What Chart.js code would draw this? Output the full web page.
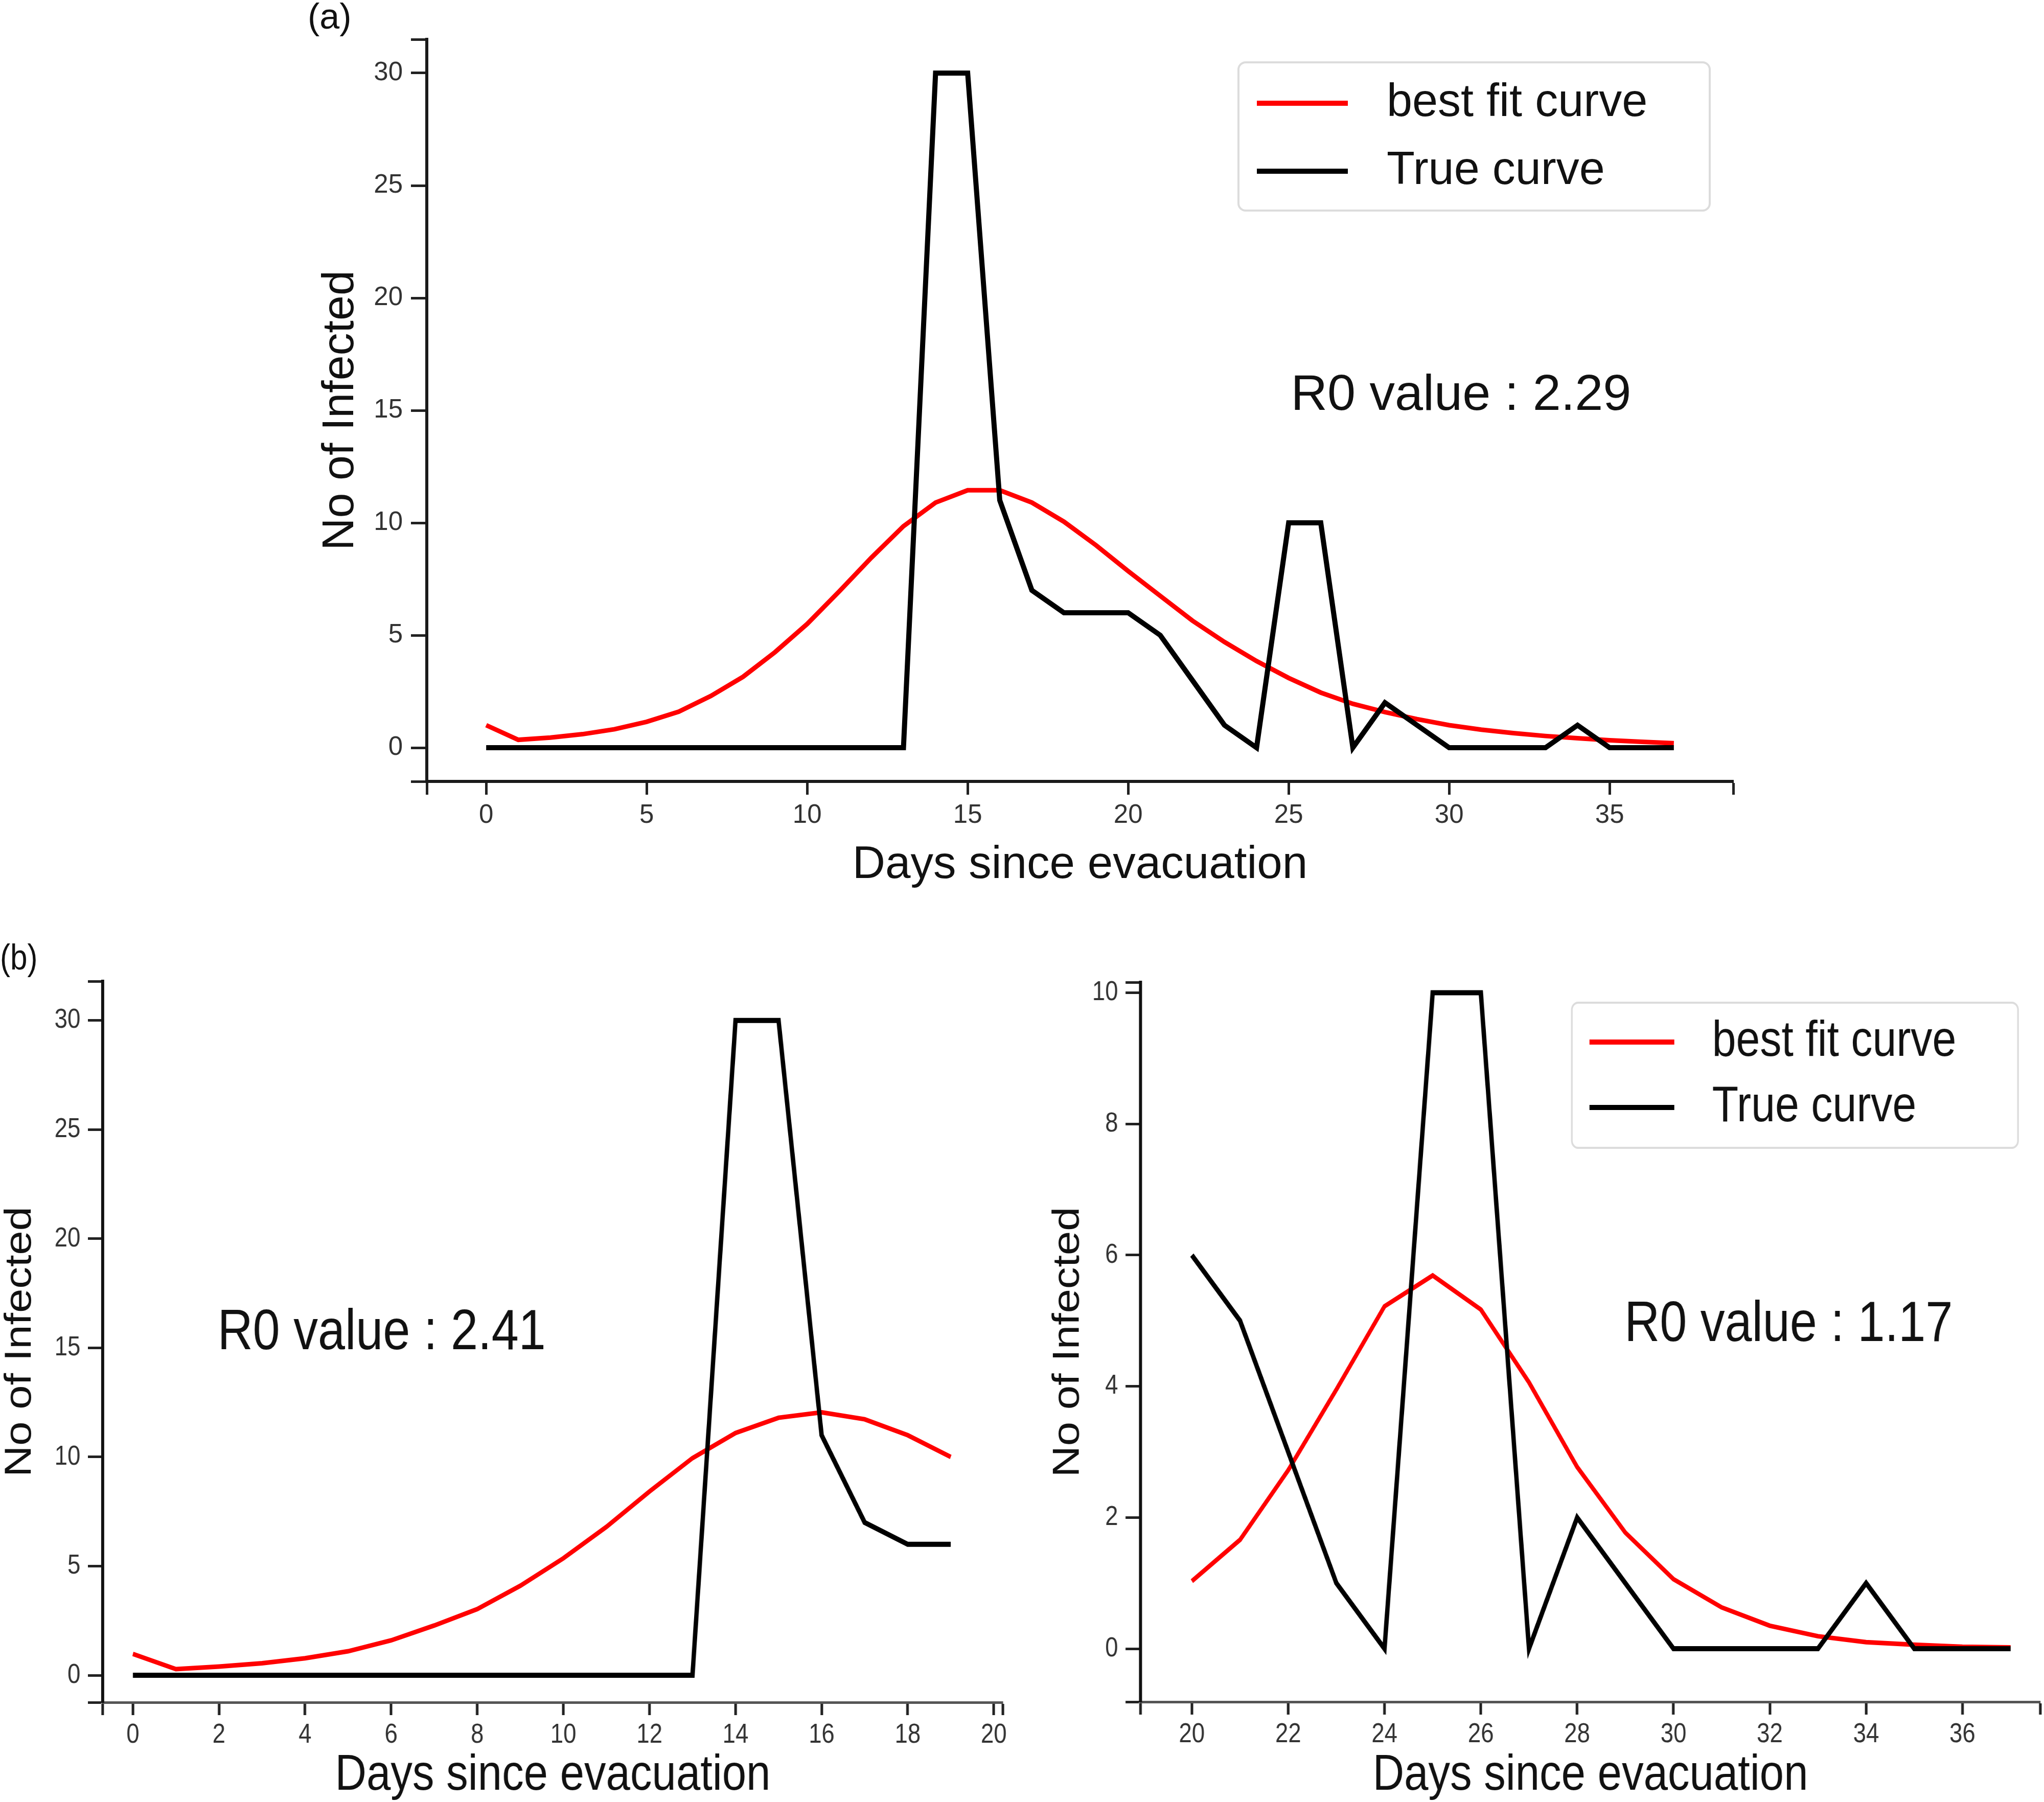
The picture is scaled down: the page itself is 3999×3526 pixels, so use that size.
<!DOCTYPE html>
<html>
<head>
<meta charset="utf-8">
<title>Curvas de ajuste R0</title>
<script src="https://cdn.jsdelivr.net/npm/chart.js@4.4.1/dist/chart.umd.min.js"></script>
<style>
	html, body { margin: 0; padding: 0; background: #fff; }
	body { width: 3999px; height: 3526px; position: relative; overflow: hidden; font-family: "Liberation Sans", Arial, sans-serif; }
	canvas { position: absolute; }
	#grafica-a { left: 0; top: 0; }
	#grafica-b1 { left: 0; top: 1850px; transform: scaleX(0.86); transform-origin: 0 0; }
	#grafica-b2 { left: 2040px; top: 1850px; transform: scaleX(0.86); transform-origin: 0 0; }
	.panel { position: absolute; font-size: 70px; line-height: 1; color: #111; white-space: nowrap; }
</style>
</head>
<body>
<div class="panel" style="left:602px; top:-3px;">(a)</div>
<div class="panel" style="left:0; top:1838px; transform: scaleX(0.86); transform-origin: 0 0;">(b)</div>
<canvas id="grafica-a" width="3500" height="1760"></canvas>
<canvas id="grafica-b1" width="2361" height="1676"></canvas>
<canvas id="grafica-b2" width="2278" height="1676"></canvas>
<script>
// ---- datos ----
const etiquetas = ["best fit curve", "True curve"];

// (a) dias 0-37
const diasA = [0, 1, 2, 3, 4, 5, 6, 7, 8, 9, 10, 11, 12, 13, 14, 15, 16, 17, 18, 19, 20, 21, 22, 23, 24, 25, 26, 27, 28, 29, 30, 31, 32, 33, 34, 35, 36, 37];
const ajusteA = [1.0, 0.35, 0.45, 0.6, 0.82, 1.15, 1.6, 2.3, 3.15, 4.25, 5.5, 6.95, 8.45, 9.85, 10.9, 11.45, 11.45, 10.9, 10.05, 9.0, 7.85, 6.75, 5.65, 4.7, 3.85, 3.1, 2.45, 1.95, 1.58, 1.27, 1.0, 0.8, 0.65, 0.52, 0.42, 0.33, 0.26, 0.2];
const realA = [0, 0, 0, 0, 0, 0, 0, 0, 0, 0, 0, 0, 0, 0, 30, 30, 11, 7, 6, 6, 6, 5, 3, 1, 0, 10, 10, 0, 2, 1, 0, 0, 0, 0, 1, 0, 0, 0];
const ticksXA = [0, 5, 10, 15, 20, 25, 30, 35];
const ticksYA = [0, 5, 10, 15, 20, 25, 30];
const r0A = "R0 value : 2.29";

// (b) izquierda, dias 0-19
const diasB1 = [0, 1, 2, 3, 4, 5, 6, 7, 8, 9, 10, 11, 12, 13, 14, 15, 16, 17, 18, 19];
const ajusteB1 = [0.98, 0.28, 0.4, 0.55, 0.78, 1.1, 1.6, 2.28, 3.03, 4.1, 5.36, 6.8, 8.42, 9.95, 11.1, 11.8, 12.05, 11.73, 11.0, 10.0];
const realB1 = [0, 0, 0, 0, 0, 0, 0, 0, 0, 0, 0, 0, 0, 0, 30, 30, 11, 7, 6, 6];
const ticksXB1 = [0, 2, 4, 6, 8, 10, 12, 14, 16, 18, 20];
const ticksYB1 = [0, 5, 10, 15, 20, 25, 30];
const r0B1 = "R0 value : 2.41";

// (b) derecha, dias 20-37
const diasB2 = [20, 21, 22, 23, 24, 25, 26, 27, 28, 29, 30, 31, 32, 33, 34, 35, 36, 37];
const ajusteB2 = [1.03, 1.66, 2.72, 3.95, 5.22, 5.69, 5.17, 4.06, 2.77, 1.77, 1.06, 0.63, 0.35, 0.19, 0.1, 0.06, 0.03, 0.02];
const realB2 = [6, 5, 3, 1, 0, 10, 10, 0, 2, 1, 0, 0, 0, 0, 1, 0, 0, 0];
const ticksXB2 = [20, 22, 24, 26, 28, 30, 32, 34, 36];
const ticksYB2 = [0, 2, 4, 6, 8, 10];
const r0B2 = "R0 value : 1.17";

// ---- estilos / posiciones ----
const FUENTE = "'Liberation Sans', Arial, Helvetica, sans-serif";
Chart.defaults.font.family = FUENTE;
Chart.defaults.color = "#333";

const estiloA = {
	padding: { left: 614, top: 77, right: 109, bottom: 13 },
	anchoY: 221, altoX: 218,
	xMin: -1.85, xMax: 38.85, yMin: -1.5, yMax: 31.5,
	tickSize: 51, largoTickX: 26, largoTickY: 31, padTickX: 10, padTickY: 16,
	anchoTickX: 5, anchoTickY: 5,
	bordeX: { color: "#1a1a1a", width: 6 }, bordeY: { color: "#1a1a1a", width: 6 },
	tituloX: { size: 89, lineHeight: 1.2, padding: 0 },
	tituloY: { size: 88, lineHeight: 1.2, padding: 0 },
	anchoRojo: 9, anchoNegro: 10,
	r0: { x: 30.37, y: 15.65, size: 99 },
	leyenda: { right: 46, top: 45, width: 922, height: 290, radius: 14, lineX: 36, lineLen: 178, textX: 290, rows: [80, 213], size: 90, lineWidth: 10 },
};

const estiloB1 = {
	padding: { left: 0, top: 70, right: 79.6, bottom: 2 },
	anchoY: 233.7, altoX: 193,
	xMin: -0.7, xMax: 20.21, yMin: -1.24, yMax: 31.8,
	tickSize: 53, largoTickX: 25, largoTickY: 33.7, padTickX: 8, padTickY: 17,
	anchoTickX: 6, anchoTickY: 5,
	bordeX: { color: "#555", width: 5 }, bordeY: { color: "#111", width: 7 },
	tituloX: { size: 99, lineHeight: 1, padding: { top: 0, bottom: 0 } },
	tituloY: { size: 85, lineHeight: 1, padding: { top: 4, bottom: 0 } },
	anchoRojo: 9, anchoNegro: 10,
	r0: { x: 5.78, y: 15.65, size: 111 },
	leyenda: null,
};

const estiloB2 = {
	padding: { left: 0, top: 72, right: 8.2, bottom: 2 },
	anchoY: 222.1, altoX: 194,
	xMin: 18.93, xMax: 37.62, yMin: -0.81, yMax: 10.16,
	tickSize: 53, largoTickX: 25, largoTickY: 33.7, padTickX: 8, padTickY: 17,
	anchoTickX: 6, anchoTickY: 5,
	bordeX: { color: "#555", width: 5 }, bordeY: { color: "#111", width: 7 },
	tituloX: { size: 99, lineHeight: 1, padding: { top: 0, bottom: 0 } },
	tituloY: { size: 85, lineHeight: 1, padding: { top: 15.6, bottom: 0 } },
	anchoRojo: 9, anchoNegro: 10,
	r0: { x: 32.39, y: 4.93, size: 111 },
	leyenda: { right: 51, top: 40, width: 1015, height: 284, radius: 14, lineX: 40, lineLen: 193, textX: 319, rows: [77, 205], size: 98, lineWidth: 10 },
};

// texto R0 y leyenda con recuadro
function pluginAnotaciones(textoR0, est) {
	return {
		id: "anotaciones",
		afterDatasetsDraw(chart) {
			const { ctx, chartArea, scales } = chart;
			ctx.save();
			ctx.fillStyle = "#111";
			ctx.textAlign = "center";
			ctx.textBaseline = "middle";
			ctx.font = est.r0.size + "px " + FUENTE;
			ctx.fillText(textoR0, scales.x.getPixelForValue(est.r0.x), scales.y.getPixelForValue(est.r0.y));

			const L = est.leyenda;
			if (L) {
				const left = chartArea.right - L.right - L.width;
				const top = chartArea.top + L.top;
				ctx.beginPath();
				if (ctx.roundRect) ctx.roundRect(left, top, L.width, L.height, L.radius);
				else ctx.rect(left, top, L.width, L.height);
				ctx.fillStyle = "rgba(255,255,255,0.9)";
				ctx.fill();
				ctx.lineWidth = 4;
				ctx.strokeStyle = "#dcdcdc";
				ctx.stroke();

				ctx.textAlign = "left";
				ctx.font = L.size + "px " + FUENTE;
				chart.data.datasets.forEach((ds, i) => {
					const y = top + L.rows[i];
					ctx.beginPath();
					ctx.moveTo(left + L.lineX, y);
					ctx.lineTo(left + L.lineX + L.lineLen, y);
					ctx.strokeStyle = ds.borderColor;
					ctx.lineWidth = L.lineWidth;
					ctx.stroke();
					ctx.fillStyle = "#111";
					ctx.fillText(ds.label, left + L.textX, y);
				});
			}
			ctx.restore();
		},
	};
}

function crearGrafica(id, dias, ajuste, real, ticksX, ticksY, textoR0, est) {
	const ctx = document.getElementById(id);
	const sinExtremos = (min, max) => (v) => (v === min || v === max ? "" : String(v));

	return new Chart(ctx, {
		type: "line",
		data: {
			datasets: [
				{
					label: etiquetas[0],
					data: dias.map((d, i) => ({ x: d, y: ajuste[i] })),
					borderColor: "#ff0000",
					borderWidth: est.anchoRojo,
					pointRadius: 0,
					tension: 0,
					fill: false,
					order: 2,
				},
				{
					label: etiquetas[1],
					data: dias.map((d, i) => ({ x: d, y: real[i] })),
					borderColor: "#000000",
					borderWidth: est.anchoNegro,
					pointRadius: 0,
					tension: 0,
					fill: false,
					order: 1,
				},
			],
		},
		options: {
			responsive: false,
			animation: false,
			devicePixelRatio: 1,
			layout: { padding: est.padding },
			plugins: {
				legend: { display: false },
				tooltip: { enabled: false },
			},
			scales: {
				x: {
					type: "linear",
					bounds: "data",
					min: est.xMin,
					max: est.xMax,
					afterBuildTicks: (s) => {
						s.ticks = [est.xMin, ...ticksX, est.xMax].map((v) => ({ value: v }));
					},
					afterFit: (s) => {
						s.height = est.altoX;
					},
					ticks: {
						autoSkip: false,
						maxRotation: 0,
						minRotation: 0,
						padding: est.padTickX,
						font: { size: est.tickSize },
						color: "#333",
						callback: sinExtremos(est.xMin, est.xMax),
					},
					grid: {
						drawOnChartArea: false,
						drawTicks: true,
						tickLength: est.largoTickX,
						tickWidth: est.anchoTickX,
						tickColor: "#222",
					},
					border: { display: true, color: est.bordeX.color, width: est.bordeX.width },
					title: {
						display: true,
						text: "Days since evacuation",
						color: "#111",
						font: { size: est.tituloX.size, lineHeight: est.tituloX.lineHeight },
						padding: est.tituloX.padding,
					},
				},
				y: {
					type: "linear",
					bounds: "data",
					min: est.yMin,
					max: est.yMax,
					afterBuildTicks: (s) => {
						s.ticks = [est.yMin, ...ticksY, est.yMax].map((v) => ({ value: v }));
					},
					afterFit: (s) => {
						s.width = est.anchoY;
					},
					ticks: {
						autoSkip: false,
						padding: est.padTickY,
						font: { size: est.tickSize },
						color: "#333",
						callback: sinExtremos(est.yMin, est.yMax),
					},
					grid: {
						drawOnChartArea: false,
						drawTicks: true,
						tickLength: est.largoTickY,
						tickWidth: est.anchoTickY,
						tickColor: "#222",
					},
					border: { display: true, color: est.bordeY.color, width: est.bordeY.width },
					title: {
						display: true,
						text: "No of Infected",
						color: "#111",
						font: { size: est.tituloY.size, lineHeight: est.tituloY.lineHeight },
						padding: est.tituloY.padding,
					},
				},
			},
		},
		plugins: [pluginAnotaciones(textoR0, est)],
	});
}

crearGrafica("grafica-a", diasA, ajusteA, realA, ticksXA, ticksYA, r0A, estiloA);
crearGrafica("grafica-b1", diasB1, ajusteB1, realB1, ticksXB1, ticksYB1, r0B1, estiloB1);
crearGrafica("grafica-b2", diasB2, ajusteB2, realB2, ticksXB2, ticksYB2, r0B2, estiloB2);
</script>
</body>
</html>
